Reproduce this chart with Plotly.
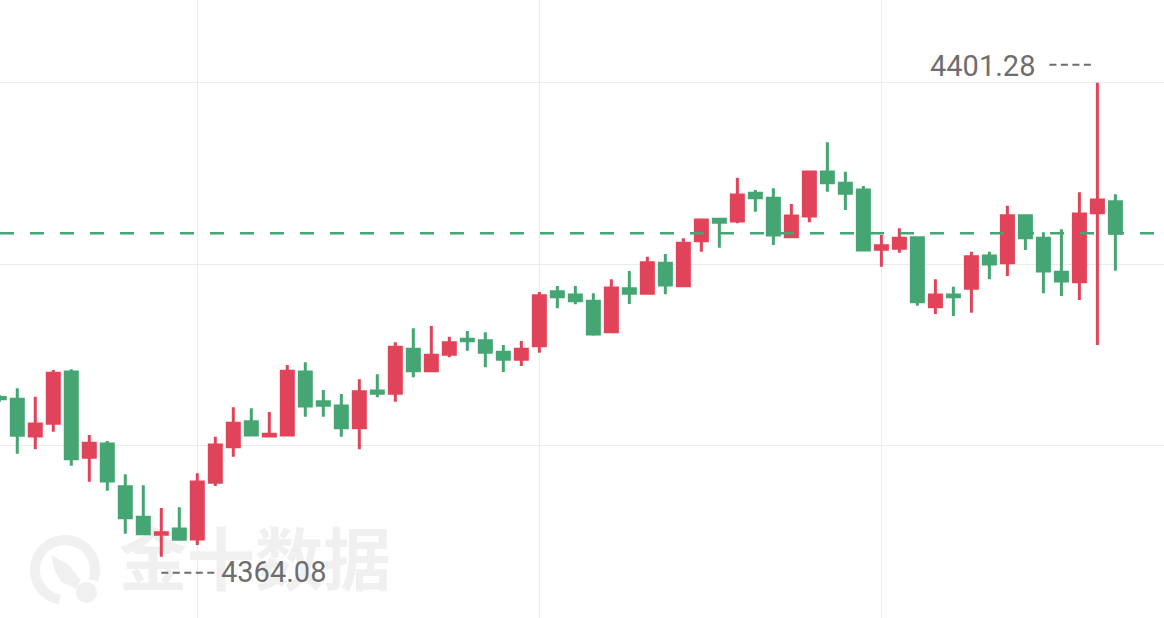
import math
import plotly.graph_objects as go

# velas de 1 minuto
abertura = [4376.57, 4376.43, 4373.55, 4374.55, 4378.58, 4371.88, 4372.92, 4369.57, 4367.17, 4365.84,
            4366.25, 4365.47, 4369.92, 4372.71, 4374.67, 4373.55, 4373.63, 4378.58, 4376.24, 4375.91,
            4374.20, 4377.08, 4376.90, 4380.36, 4378.68, 4379.96, 4381.14, 4381.03, 4380.12, 4379.57,
            4380.64, 4384.88, 4384.62, 4384.12, 4381.74, 4385.11, 4384.75, 4387.11, 4385.35, 4388.88,
            4390.56, 4390.43, 4392.60, 4392.21, 4389.19, 4390.82, 4394.27, 4393.38, 4392.86, 4388.21,
            4388.28, 4389.12, 4383.70, 4384.62, 4385.14, 4387.68, 4387.15, 4390.84, 4389.07, 4386.40,
            4385.66, 4391.08, 4391.94]
maxima = [4376.77, 4377.30, 4376.64, 4378.73, 4378.79, 4373.63, 4373.16, 4370.55, 4369.68, 4367.90,
          4367.96, 4370.63, 4373.50, 4375.80, 4375.73, 4375.44, 4379.12, 4379.34, 4377.16, 4376.85,
          4378.00, 4378.39, 4380.91, 4382.00, 4382.19, 4381.35, 4381.79, 4381.69, 4380.69, 4381.01,
          4384.85, 4385.33, 4385.33, 4384.75, 4385.85, 4386.50, 4387.62, 4387.84, 4389.07, 4390.58,
          4390.58, 4393.82, 4392.86, 4392.99, 4391.76, 4394.35, 4396.60, 4394.30, 4393.17, 4389.33,
          4389.85, 4389.14, 4385.85, 4385.27, 4388.02, 4388.02, 4391.63, 4390.86, 4389.54, 4389.77,
          4392.68, 4401.28, 4392.52]
minima = [4376.22, 4372.16, 4372.51, 4373.89, 4371.22, 4369.97, 4369.26, 4365.89, 4365.82, 4364.08,
          4365.39, 4365.00, 4369.63, 4371.93, 4373.55, 4373.51, 4373.55, 4375.07, 4375.07, 4373.50,
          4372.51, 4376.59, 4376.24, 4378.16, 4378.65, 4379.73, 4380.25, 4378.94, 4378.58, 4379.05,
          4380.09, 4383.57, 4383.89, 4381.42, 4381.72, 4383.91, 4384.67, 4384.67, 4385.32, 4388.02,
          4388.33, 4390.25, 4391.16, 4388.54, 4389.15, 4390.32, 4392.73, 4391.29, 4388.11, 4386.84,
          4387.94, 4383.78, 4383.13, 4382.97, 4383.23, 4385.85, 4386.11, 4388.15, 4384.75, 4384.54,
          4384.23, 4380.69, 4386.53]
fechamento = [4376.47, 4373.61, 4374.49, 4378.47, 4371.77, 4372.98, 4370.02, 4367.14, 4365.89, 4365.96,
              4365.45, 4369.94, 4372.85, 4374.55, 4373.63, 4373.69, 4378.63, 4375.91, 4375.96, 4374.20,
              4377.03, 4376.90, 4380.51, 4378.68, 4379.89, 4380.88, 4381.03, 4380.12, 4379.57, 4380.36,
              4384.56, 4384.49, 4384.17, 4381.56, 4385.17, 4384.75, 4387.15, 4385.40, 4388.68, 4390.51,
              4390.32, 4392.47, 4392.25, 4389.33, 4390.82, 4394.27, 4393.43, 4392.60, 4388.15, 4388.49,
              4389.07, 4384.09, 4384.62, 4384.49, 4387.62, 4387.05, 4390.84, 4389.12, 4386.50, 4385.72,
              4390.98, 4392.07, 4389.46]
indices = list(range(len(abertura)))

LARGURA, ALTURA = 1164, 618
VERMELHO = '#e1445a'
VERDE = '#45a673'
CINZA = '#6e6e6e'
MARCA = '#f0f0f0'
X_FAIXA = [0.04, 64.7]
Y_FAIXA = [4359.27, 4407.77]


def papel(px: float, py: float) -> tuple:
    return px / LARGURA, 1 - py / ALTURA


def caminho(pontos, fechar=False) -> str:
    s = 'M ' + ' L '.join('%.5f,%.5f' % papel(px, py) for px, py in pontos)
    return s + (' Z' if fechar else '')


def formas_logo() -> list:
    # anel em forma de "Q" com o foguete dentro (marca d'agua)
    cx, cy, r = 65, 570, 30
    arco = []
    for k in range(61):
        ang = math.radians(100 + k * (280 / 60))
        arco.append((cx + r * math.cos(ang), cy + r * math.sin(ang)))
    formas = [dict(type='path', path=caminho(arco), xref='paper', yref='paper',
                   line=dict(color=MARCA, width=10), layer='below')]
    foguete = [(52, 556), (68, 565), (80, 580), (76, 588), (62, 582), (55, 570)]
    formas.append(dict(type='path', path=caminho(foguete, True), xref='paper', yref='paper',
                       fillcolor=MARCA, line=dict(color=MARCA, width=1), layer='below'))
    x0, y0 = papel(76, 582)
    x1, y1 = papel(97, 603)
    formas.append(dict(type='circle', x0=x0, y0=y1, x1=x1, y1=y0, xref='paper', yref='paper',
                       fillcolor=MARCA, line=dict(color=MARCA, width=0), layer='below'))
    return formas


def main():
    fig = go.Figure()

    # marca d'agua nos eixos de baixo (em pixels), para ficar por baixo das velas
    fig.add_trace(go.Scatter(x=[255], y=[568], mode='text', text=['金十数据'],
                             xaxis='x', yaxis='y',
                             textfont=dict(family='Noto Sans CJK SC', size=68, color=MARCA, weight='bold'),
                             hoverinfo='skip'))

    fig.add_trace(go.Candlestick(
        x=indices, open=abertura, high=maxima, low=minima, close=fechamento,
        xaxis='x2', yaxis='y2',
        increasing=dict(line=dict(color=VERMELHO, width=3), fillcolor=VERMELHO),
        decreasing=dict(line=dict(color=VERDE, width=3), fillcolor=VERDE),
        whiskerwidth=0))

    i_max = maxima.index(max(maxima))
    i_min = minima.index(min(minima))
    fonte = dict(family='Roboto', size=29, color=CINZA)
    anotacoes = [
        dict(x=i_max, y=maxima[i_max], xref='x2', yref='y2', text='%.2f' % maxima[i_max],
             showarrow=False, xanchor='right', yanchor='middle', xshift=-60, yshift=17, font=fonte),
        dict(x=i_min, y=minima[i_min], xref='x2', yref='y2', text='%.2f' % minima[i_min],
             showarrow=False, xanchor='left', yanchor='middle', xshift=58, yshift=-15, font=fonte),
    ]

    formas = formas_logo()
    # tracinhos que ligam os rotulos as velas extremas
    formas.append(dict(type='line', xref='x2', yref='y2', xsizemode='pixel', ysizemode='pixel',
                       xanchor=i_max, yanchor=maxima[i_max], x0=-48, x1=-5, y0=18, y1=18,
                       line=dict(color=CINZA, width=2, dash='7px,4.5px')))
    formas.append(dict(type='line', xref='x2', yref='y2', xsizemode='pixel', ysizemode='pixel',
                       xanchor=i_min, yanchor=minima[i_min], x0=0, x1=54, y0=-16, y1=-16,
                       line=dict(color=CINZA, width=2, dash='7px,4.5px')))
    # linha do ultimo preco
    formas.append(dict(type='line', xref='paper', yref='y2', x0=0, x1=1,
                       y0=fechamento[-1], y1=fechamento[-1],
                       line=dict(color=VERDE, width=2.5, dash='14px,16px')))

    passo = (maxima[i_max] - minima[i_min]) * 181.5 / 474
    grade_y = [maxima[i_max] - k * passo for k in range(3)]

    fig.update_layout(
        width=LARGURA, height=ALTURA, margin=dict(l=0, r=0, t=0, b=0),
        paper_bgcolor='white', plot_bgcolor='white', showlegend=False,
        boxgap=0.333, boxgroupgap=0,
        annotations=anotacoes, shapes=formas,
        xaxis=dict(range=[0, LARGURA], visible=False, showgrid=False, zeroline=False),
        yaxis=dict(range=[ALTURA, 0], visible=False, showgrid=False, zeroline=False),
        xaxis2=dict(range=X_FAIXA, overlaying='x', anchor='y2', rangeslider=dict(visible=False),
                    tickvals=[11, 30, 49], showticklabels=False, showgrid=True, gridcolor='#ebebeb',
                    gridwidth=1, zeroline=False, showline=False, ticks=''),
        yaxis2=dict(range=Y_FAIXA, overlaying='y', anchor='x2', tickvals=grade_y, showticklabels=False,
                    showgrid=True, gridcolor='#ebebeb', gridwidth=1, zeroline=False, showline=False,
                    ticks=''),
    )
    # sem a margem padrao do body, o grafico ocupa a janela inteira
    fig.write_html('out.html', config={'displayModeBar': False},
                   post_script="document.body.style.margin='0';")


if __name__ == '__main__':
    main()
